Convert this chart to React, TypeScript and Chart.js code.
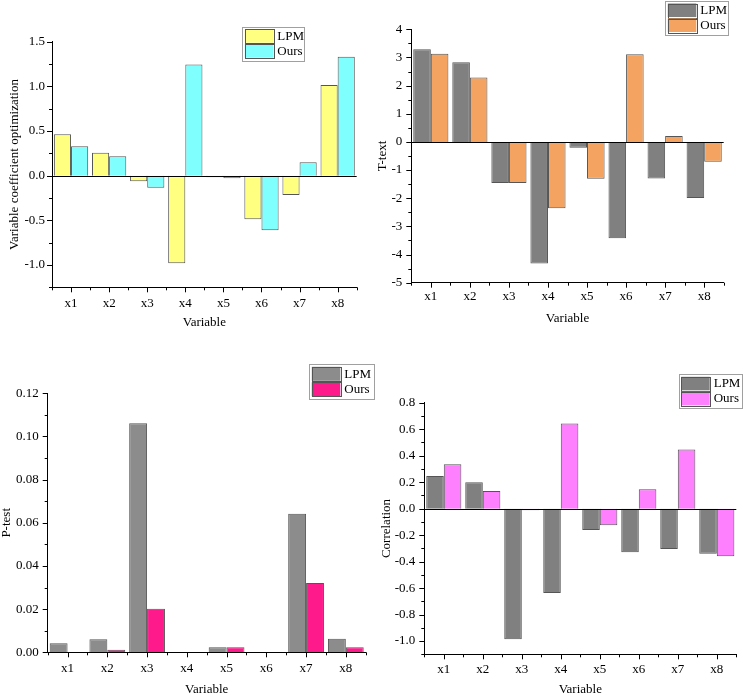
import React, { useEffect, useRef } from 'react';
import { Chart, registerables } from 'chart.js';

Chart.register(...registerables);

// ---------------- data ----------------
const categories = ['x1', 'x2', 'x3', 'x4', 'x5', 'x6', 'x7', 'x8'];
const seriesNames = ['LPM', 'Ours'];

const coefLPM = [0.463, 0.257, -0.063, -0.981, -0.019, -0.489, -0.216, 1.015];
const coefOurs = [0.328, 0.216, -0.134, 1.246, -0.03, -0.612, 0.149, 1.332];

const tLPM = [3.29, 2.83, -1.46, -4.32, -0.21, -3.42, -1.3, -1.99];
const tOurs = [3.13, 2.29, -1.46, -2.36, -1.31, 3.11, 0.21, -0.7];

const pLPM = [0.0042, 0.006, 0.1061, 0, 0.0023, 0, 0.0642, 0.0063];
const pOurs = [0, 0.0012, 0.0202, 0, 0.0023, 0, 0.0321, 0.0023];

const corrLPM = [0.247, 0.199, -0.987, -0.637, -0.161, -0.33, -0.305, -0.34];
const corrOurs = [0.335, 0.133, -0.013, 0.642, -0.126, 0.146, 0.446, -0.36];

const FONT_FAMILY = "'Liberation Serif', 'Times New Roman', serif";
const FONT_SIZE = 13;
const LINE_H = FONT_SIZE * 1.2;

type PanelCfg = {
  x: number; y: number; w: number; h: number;
  area: { l: number; r: number; t: number; b: number };
  yMin: number; yMax: number; major: number; minor: number; decimals: number;
  yTitle: string; yTitleX: number; yTickPad: number;
  xTickY: number; xTitleY: number;
  colors: [string, string];
  legend: { x: number; y: number; w: number; h: number };
  zeroLine: boolean;
  values: [number[], number[]];
};

const panels: PanelCfg[] = [
  {
    x: 0, y: 0, w: 372, h: 340,
    area: { l: 52, r: 356.7, t: 41.7, b: 287.3 },
    yMin: -1.25, yMax: 1.5, major: 0.5, minor: 0.25, decimals: 1,
    yTitle: 'Variable coefficient optimization', yTitleX: 15, yTickPad: 7,
    xTickY: 303.3, xTitleY: 323,
    colors: ['#FFFF80', '#80FFFF'],
    legend: { x: 242.3, y: 26.7, w: 62, h: 34 },
    zeroLine: true,
    values: [coefLPM, coefOurs],
  },
  {
    x: 372, y: 0, w: 371, h: 340,
    area: { l: 39.3, r: 351.7, t: 29.3, b: 282.7 },
    yMin: -5, yMax: 4, major: 1, minor: 0.5, decimals: 0,
    yTitle: 'T-text', yTitleX: 10.3, yTickPad: 9,
    xTickY: 296.7, xTitleY: 318.3,
    colors: ['#808080', '#F4A460'],
    legend: { x: 293.3, y: 1, w: 63.4, h: 34 },
    zeroLine: true,
    values: [tLPM, tOurs],
  },
  {
    x: 0, y: 340, w: 380, h: 356,
    area: { l: 47.7, r: 365.7, t: 53.3, b: 312.3 },
    yMin: 0, yMax: 0.12, major: 0.02, minor: 0.01, decimals: 2,
    yTitle: 'P-test', yTitleX: 6.2, yTickPad: 9,
    xTickY: 328.3, xTitleY: 350,
    colors: ['#8C8C8C', '#FF1A8C'],
    legend: { x: 309.3, y: 24.3, w: 64.5, h: 35 },
    zeroLine: false,
    values: [pLPM, pOurs],
  },
  {
    x: 372, y: 340, w: 371, h: 356,
    area: { l: 52.3, r: 364.3, t: 62.7, b: 314.3 },
    yMin: -1.1, yMax: 0.8, major: 0.2, minor: 0.1, decimals: 1,
    yTitle: 'Correlation', yTitleX: 14.3, yTickPad: 9,
    xTickY: 330, xTitleY: 350,
    colors: ['#808080', '#FF80FF'],
    legend: { x: 306.7, y: 34.3, w: 62.6, h: 34 },
    zeroLine: true,
    values: [corrLPM, corrOurs],
  },
];

function isMajor(v: number, major: number) {
  const r = v / major;
  return Math.abs(r - Math.round(r)) < 1e-6;
}

function fmt(v: number, d: number) {
  if (Math.abs(v) < 1e-9) v = 0;
  return v.toFixed(d);
}

function Panel({ cfg }: { cfg: PanelCfg }) {
  const ref = useRef<HTMLCanvasElement>(null);

  useEffect(() => {
    const canvas = ref.current;
    if (!canvas) return;
    const font = { family: FONT_FAMILY, size: FONT_SIZE };

    const decor = {
      id: 'decor',
      afterDatasetsDraw(chart: any) {
        const ctx: CanvasRenderingContext2D = chart.ctx;
        const xs = chart.scales.x;
        const ys = chart.scales.y;
        const ca = chart.chartArea;
        ctx.save();
        ctx.strokeStyle = '#000';
        ctx.lineWidth = 1;
        // zero line
        if (cfg.zeroLine) {
          const y0 = Math.round(ys.getPixelForValue(0)) + 0.5;
          ctx.beginPath();
          ctx.moveTo(ca.left, y0);
          ctx.lineTo(ca.right, y0);
          ctx.stroke();
        }
        // y ticks
        ys.ticks.forEach((t: any) => {
          const py = Math.round(ys.getPixelForValue(t.value)) + 0.5;
          const len = isMajor(t.value, cfg.major) ? 5 : 3;
          ctx.beginPath();
          ctx.moveTo(ca.left - len, py);
          ctx.lineTo(ca.left, py);
          ctx.stroke();
        });
        // x ticks
        const n = categories.length;
        for (let i = 0; i < n; i++) {
          const px = Math.round(xs.getPixelForValue(i)) + 0.5;
          ctx.beginPath();
          ctx.moveTo(px, ca.bottom);
          ctx.lineTo(px, ca.bottom + 5);
          ctx.stroke();
        }
        for (let i = 0; i <= n; i++) {
          const px = Math.round(xs.getPixelForValue(i - 0.5)) + 0.5;
          ctx.beginPath();
          ctx.moveTo(px, ca.bottom);
          ctx.lineTo(px, ca.bottom + 3);
          ctx.stroke();
        }
        ctx.restore();
      },
      afterDraw(chart: any) {
        const ctx: CanvasRenderingContext2D = chart.ctx;
        const L = cfg.legend;
        ctx.save();
        ctx.fillStyle = '#fff';
        ctx.fillRect(L.x, L.y, L.w, L.h);
        ctx.strokeStyle = '#a0a0a0';
        ctx.lineWidth = 1;
        ctx.strokeRect(Math.round(L.x) + 0.5, Math.round(L.y) + 0.5, Math.round(L.w), Math.round(L.h));
        const rowH = (L.h - 4) / 2;
        chart.data.datasets.forEach((ds: any, i: number) => {
          const sx = L.x + 2.5;
          const sy = L.y + 2 + i * rowH + 0.5;
          const sw = 28.5;
          const sh = rowH - 1.5;
          ctx.fillStyle = ds.backgroundColor;
          ctx.fillRect(sx, sy, sw, sh);
          ctx.strokeStyle = '#555';
          ctx.strokeRect(Math.round(sx) + 0.5, Math.round(sy) + 0.5, Math.round(sw), Math.round(sh));
          ctx.fillStyle = '#000';
          ctx.font = `${FONT_SIZE}px ${FONT_FAMILY}`;
          ctx.textBaseline = 'middle';
          ctx.textAlign = 'left';
          ctx.fillText(ds.label, sx + sw + 4, sy + sh / 2 + 0.5);
        });
        ctx.restore();
      },
    };

    const chart = new Chart(canvas, {
      type: 'bar',
      data: {
        labels: categories,
        datasets: seriesNames.map((name, i) => ({
          label: name,
          data: cfg.values[i],
          backgroundColor: cfg.colors[i],
          borderColor: '#555',
          borderWidth: 1,
          categoryPercentage: 0.9,
          barPercentage: 1.0,
        })),
      },
      options: {
        responsive: false,
        maintainAspectRatio: false,
        animation: false,
        events: [],
        layout: {
          padding: { left: 0, top: cfg.area.t, right: cfg.w - cfg.area.r, bottom: 0 },
        },
        plugins: {
          legend: { display: false },
          tooltip: { enabled: false },
        },
        scales: {
          x: {
            type: 'category',
            offset: true,
            grid: { display: false, drawTicks: false },
            border: { display: true, color: '#000', width: 1 },
            ticks: {
              font,
              color: '#000',
              padding: cfg.xTickY - cfg.area.b - LINE_H / 2,
              maxRotation: 0,
              minRotation: 0,
              autoSkip: false,
            },
            title: {
              display: true,
              text: 'Variable',
              font,
              color: '#000',
              padding: { top: 0, bottom: cfg.h - cfg.xTitleY - LINE_H / 2 },
            },
            afterFit: (s: any) => {
              s.height = cfg.h - cfg.area.b;
            },
          },
          y: {
            type: 'linear',
            min: cfg.yMin,
            max: cfg.yMax,
            grid: { display: false, drawTicks: false },
            border: { display: true, color: '#000', width: 1 },
            ticks: {
              stepSize: cfg.minor,
              maxTicksLimit: 1000,
              autoSkip: false,
              font,
              color: '#000',
              padding: cfg.yTickPad,
              callback: (v: any) => (isMajor(Number(v), cfg.major) ? fmt(Number(v), cfg.decimals) : ''),
            },
            title: {
              display: true,
              text: cfg.yTitle,
              font,
              color: '#000',
              padding: { top: cfg.yTitleX - LINE_H / 2, bottom: 0 },
            },
            afterFit: (s: any) => {
              s.width = cfg.area.l;
            },
          },
        },
      },
      plugins: [decor],
    } as any);

    return () => chart.destroy();
  }, [cfg]);

  return (
    <canvas
      ref={ref}
      width={cfg.w}
      height={cfg.h}
      style={{ position: 'absolute', left: cfg.x, top: cfg.y, width: cfg.w, height: cfg.h }}
    />
  );
}

export default function App() {
  return (
    <div
      style={{
        position: 'fixed',
        left: 0,
        top: 0,
        width: 743,
        height: 696,
        background: '#fff',
        overflow: 'hidden',
      }}
    >
      {panels.map((p, i) => (
        <Panel key={i} cfg={p} />
      ))}
    </div>
  );
}
